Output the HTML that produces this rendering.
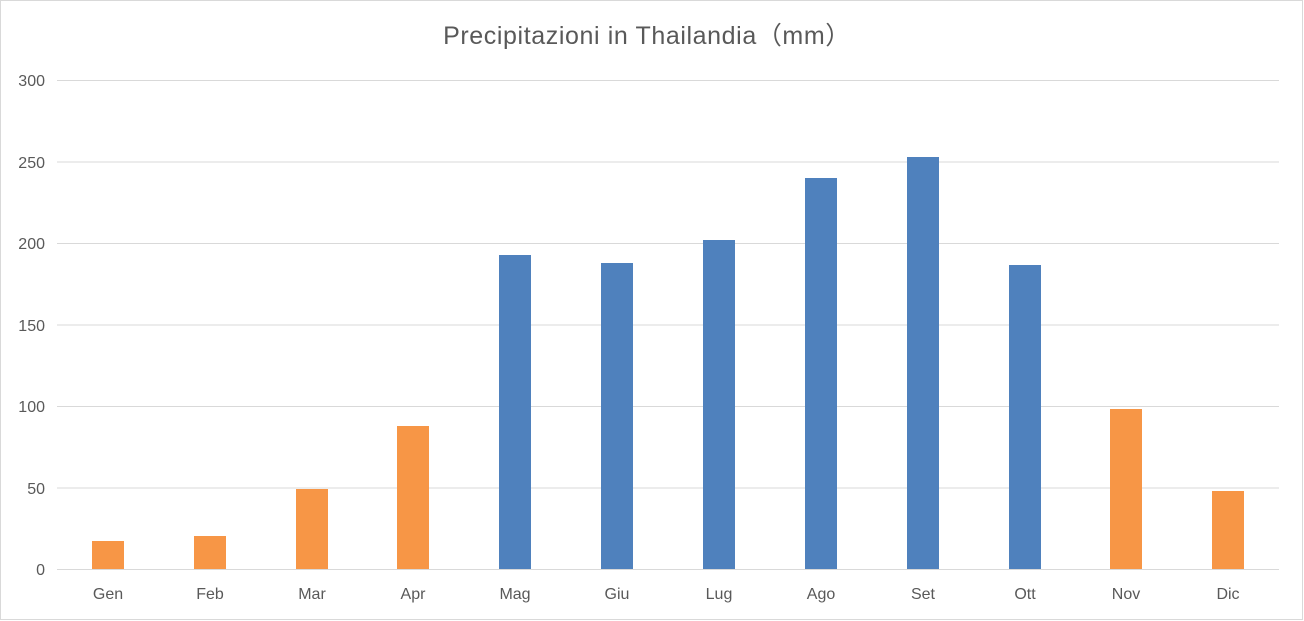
<!DOCTYPE html>
<html><head><meta charset="utf-8"><style>
html,body{margin:0;padding:0;background:#fff}
svg{display:block;font-family:"Liberation Sans","Noto Sans CJK SC",sans-serif}
</style></head><body>
<svg width="1304" height="621" viewBox="0 0 1304 621" xmlns="http://www.w3.org/2000/svg">
<rect x="0.5" y="0.5" width="1302" height="619" fill="#fff" stroke="#d9d9d9"/>
<text x="647" y="44" text-anchor="middle" font-size="25" letter-spacing="0.6" fill="#595959">Precipitazioni in Thailandia（mm）</text>
<g stroke="#d9d9d9" stroke-width="1">
<line x1="57" x2="1279" y1="80.5" y2="80.5"/>
<line x1="57" x2="1279" y1="162" y2="162"/>
<line x1="57" x2="1279" y1="243.5" y2="243.5"/>
<line x1="57" x2="1279" y1="325" y2="325"/>
<line x1="57" x2="1279" y1="406.5" y2="406.5"/>
<line x1="57" x2="1279" y1="488" y2="488"/>
<line x1="57" x2="1279" y1="569.5" y2="569.5"/>
</g>
<g font-size="16" fill="#595959" text-anchor="end">
<text x="45" y="86">300</text><text x="45" y="168">250</text><text x="45" y="249">200</text>
<text x="45" y="331">150</text><text x="45" y="412">100</text><text x="45" y="494">50</text><text x="45" y="575">0</text>
</g>
<g>
<rect x="92" y="541" width="32" height="28" fill="#F79646"/>
<rect x="194" y="536" width="32" height="33" fill="#F79646"/>
<rect x="296" y="489" width="32" height="80" fill="#F79646"/>
<rect x="397" y="426" width="32" height="143" fill="#F79646"/>
<rect x="499" y="255" width="32" height="314" fill="#4F81BD"/>
<rect x="601" y="263" width="32" height="306" fill="#4F81BD"/>
<rect x="703" y="240" width="32" height="329" fill="#4F81BD"/>
<rect x="805" y="178" width="32" height="391" fill="#4F81BD"/>
<rect x="907" y="157" width="32" height="412" fill="#4F81BD"/>
<rect x="1009" y="265" width="32" height="304" fill="#4F81BD"/>
<rect x="1110" y="409" width="32" height="160" fill="#F79646"/>
<rect x="1212" y="491" width="32" height="78" fill="#F79646"/>
</g>
<g font-size="16" fill="#595959" text-anchor="middle">
<text x="108" y="599">Gen</text><text x="210" y="599">Feb</text><text x="312" y="599">Mar</text>
<text x="413" y="599">Apr</text><text x="515" y="599">Mag</text><text x="617" y="599">Giu</text>
<text x="719" y="599">Lug</text><text x="821" y="599">Ago</text><text x="923" y="599">Set</text>
<text x="1025" y="599">Ott</text><text x="1126" y="599">Nov</text><text x="1228" y="599">Dic</text>
</g>
</svg>
</body></html>
